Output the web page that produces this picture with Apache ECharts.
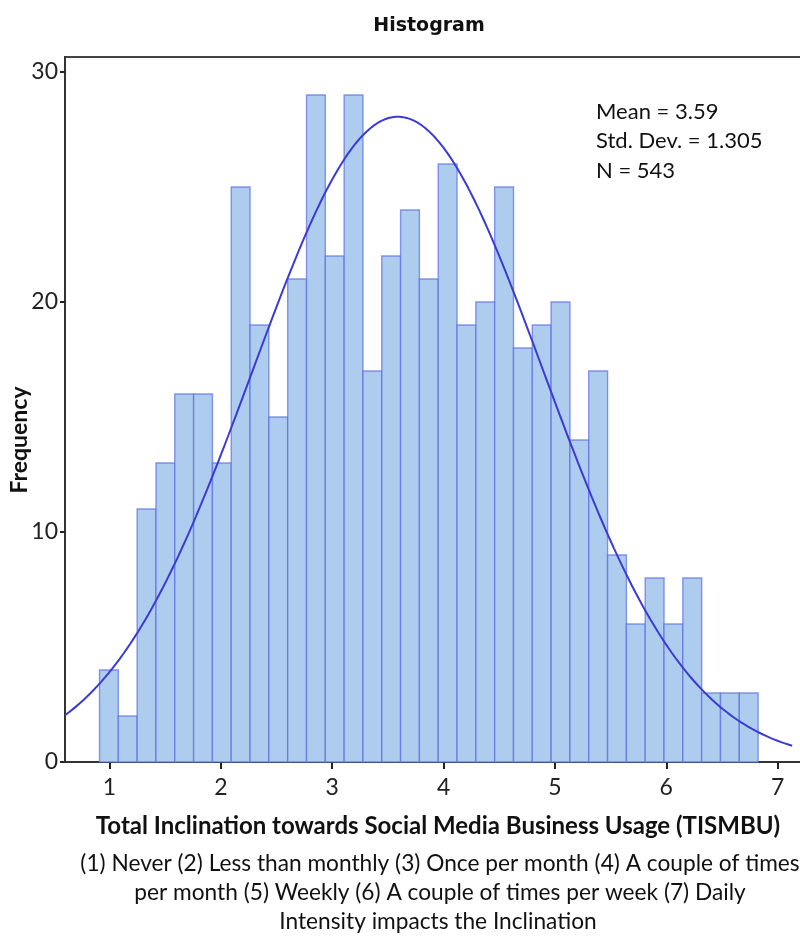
<!DOCTYPE html>
<html>
<head>
<meta charset="utf-8">
<title>Histogram</title>
<script src="https://cdn.jsdelivr.net/npm/echarts@6/dist/echarts.min.js"></script>
<style>
  html, body { margin: 0; padding: 0; background: #ffffff; }
  #chart { width: 800px; height: 936px; }
</style>
</head>
<body>
<div id="chart"></div>
<script>
// Histogram bins: first bin edge and bin width on the TISMBU scale
const binStart = 0.91;
const binWidth = 0.169;
// Frequency of each bin, left to right
const counts = [4, 2, 11, 13, 16, 16, 13, 25, 19, 15, 21, 29, 22, 29, 17, 22, 24, 21,
                26, 19, 20, 25, 18, 19, 20, 14, 17, 9, 6, 8, 6, 8, 3, 3, 3];
// Summary statistics shown in the chart and used for the normal curve
const meanValue = 3.59;
const stdDev = 1.305;
const sampleSize = 543;
// Axis tick values
const xTicks = [1, 2, 3, 4, 5, 6, 7];
const yTicks = [0, 10, 20, 30];
// Text lines
const statLines = ['Mean = 3.59', 'Std. Dev. = 1.305', 'N = 543'];
const noteLines = [
  '(1) Never (2) Less than monthly (3) Once per month (4) A couple of times',
  'per month (5) Weekly (6) A couple of times per week (7) Daily',
  'Intensity impacts the Inclination'
];

const X_MIN = 0.6, X_MAX = 7.3, Y_MAX = 30.65;
const CURVE_FROM = 0.6, CURVE_TO = 7.13;

// bar rectangles: [left edge, count, right edge]
const barData = counts.map((c, i) => [binStart + i * binWidth, c, binStart + (i + 1) * binWidth]);

// fitted normal curve, scaled to counts per bin
const curveData = [];
for (let k = 0; k <= 200; k++) {
  const x = CURVE_FROM + (CURVE_TO - CURVE_FROM) * k / 200;
  const z = (x - meanValue) / stdDev;
  const y = sampleSize * binWidth * Math.exp(-0.5 * z * z) / (stdDev * Math.sqrt(2 * Math.PI));
  curveData.push([x, y]);
}

const FONT = 'Lato';
const chart = echarts.init(document.getElementById('chart'), null, { renderer: 'canvas' });

chart.setOption({
  backgroundColor: '#ffffff',
  animation: false,
  title: {
    text: 'Histogram',
    left: 424, top: 12, textAlign: 'center',
    textStyle: { fontFamily: 'DejaVu Sans', fontWeight: 'bold', fontSize: 19, color: '#111' }
  },
  grid: {
    left: 65, top: 57, width: 746, bottom: 174,
    outerBoundsMode: 'none', containLabel: false,
    show: true, borderColor: '#444', borderWidth: 2, backgroundColor: 'transparent'
  },
  xAxis: {
    type: 'value', min: X_MIN, max: X_MAX,
    name: 'Total Inclination towards Social Media Business Usage (TISMBU)',
    nameLocation: 'middle', nameGap: 52,
    nameTextStyle: { fontFamily: FONT, fontWeight: 'bold', fontSize: 24, color: '#111' },
    axisLine: { show: true, onZero: false, lineStyle: { color: '#333', width: 2 } },
    axisTick: { show: true, customValues: xTicks, length: 7, lineStyle: { color: '#222', width: 2 } },
    axisLabel: { customValues: xTicks, fontFamily: FONT, fontSize: 23, color: '#222', margin: 14 },
    splitLine: { show: false }
  },
  yAxis: {
    type: 'value', min: 0, max: Y_MAX,
    axisLine: { show: true, lineStyle: { color: '#333', width: 2 } },
    axisTick: { show: true, customValues: yTicks, length: 5, lineStyle: { color: '#222', width: 2 } },
    axisLabel: { customValues: yTicks, fontFamily: FONT, fontSize: 23, color: '#222', margin: 7 },
    splitLine: { show: false }
  },
  graphic: [
    {
      type: 'text', left: 596, top: 97,
      style: { text: statLines.join('\n'), lineHeight: 29.5, fontFamily: FONT, fontSize: 22, fill: '#111' }
    },
    {
      type: 'text', x: 20, y: 440, rotation: Math.PI / 2,
      style: { text: 'Frequency', align: 'center', verticalAlign: 'middle', fontFamily: FONT, fontWeight: 'bold', fontSize: 23, fill: '#111' }
    },
    {
      type: 'text', x: 440, y: 864,
      style: { text: noteLines[0], align: 'center', verticalAlign: 'middle', fontFamily: FONT, fontSize: 22.7, fill: '#111' }
    },
    {
      type: 'text', x: 440, y: 893,
      style: { text: noteLines[1], align: 'center', verticalAlign: 'middle', fontFamily: FONT, fontSize: 22.7, fill: '#111' }
    },
    {
      type: 'text', x: 438, y: 922,
      style: { text: noteLines[2], align: 'center', verticalAlign: 'middle', fontFamily: FONT, fontSize: 22.7, fill: '#111' }
    }
  ],
  series: [
    {
      type: 'custom',
      data: barData,
      encode: { x: [0, 2], y: 1 },
      renderItem: function (params, api) {
        const p0 = api.coord([api.value(0), 0]);
        const p1 = api.coord([api.value(2), api.value(1)]);
        return {
          type: 'rect',
          shape: { x: p0[0], y: p1[1], width: p1[0] - p0[0], height: p0[1] - p1[1] },
          style: { fill: '#aecdee', stroke: 'rgba(90,108,228,0.7)', lineWidth: 1.4 }
        };
      },
      z: 2
    },
    {
      type: 'line',
      data: curveData,
      showSymbol: false,
      smooth: false,
      lineStyle: { color: '#3b3bd4', width: 2 },
      z: 3
    }
  ]
});
</script>
</body>
</html>
